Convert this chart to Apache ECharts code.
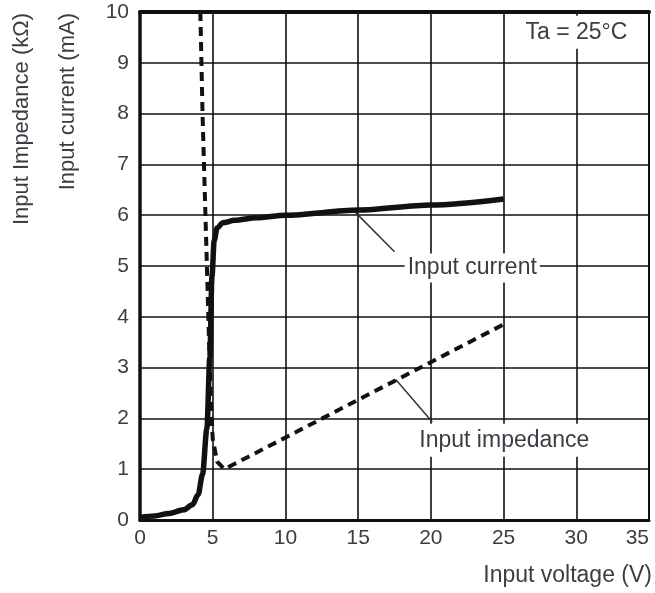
<!DOCTYPE html>
<html>
<head>
<meta charset="utf-8">
<script src="https://cdn.jsdelivr.net/npm/echarts@6/dist/echarts.min.js"></script>
<style>
  html, body { margin: 0; padding: 0; background: #fff; }
  #chart { width: 655px; height: 593px; }
</style>
</head>
<body>
<div id="chart"></div>
<script>
// 输入电流 (mA) 与输入阻抗 (kΩ) 随输入电压变化
let currentData = [
    [0, 0.05], [1, 0.08], [2, 0.13], [3, 0.2], [3.6, 0.3], [4.0, 0.5],
    [4.3, 0.9], [4.6, 1.8], [4.8, 3.2], [4.95, 4.8], [5.1, 5.5], [5.3, 5.75],
    [5.7, 5.85], [6.5, 5.9], [8, 5.95], [10, 6.0], [15, 6.1], [20, 6.2], [25, 6.32]
];
let impedanceData = [
    [4.15, 10], [4.3, 8], [4.5, 6], [4.7, 4], [4.85, 2.5], [5.0, 1.6],
    [5.3, 1.15], [5.8, 1.0], [25, 3.85]
];
let xTicks = [0, 35, 5];   // min, max, interval
let yTicks = [0, 10, 1];

let textColor = '#3c3c44';
let fontFamily = '"Liberation Sans", Arial, sans-serif';

let chartDom = document.getElementById('chart');
let myChart = echarts.init(chartDom);

//注释文字的样式
function noteLabel(text, size, pad){
    return {
        show: true, position: 'right', distance: 0,
        formatter: text,
        color: textColor, fontSize: size, fontFamily: fontFamily,
        backgroundColor: '#fff', padding: pad
    };
}

let option = {
    animation: false,
    grid: {
        left: 140,
        right: 6,
        top: 12,
        bottom: 73,
        show: true,
        borderColor: '#111',
        borderWidth: 2
    },
    xAxis: [
        {
            type: 'value',
            min: xTicks[0],
            max: xTicks[1],
            interval: xTicks[2],
            axisLine: { show: true, lineStyle: { color: '#111', width: 3 } },
            axisTick: { show: false },
            splitLine: { show: true, lineStyle: { color: '#111', width: 1.6 } },
            axisLabel: {
                color: textColor, fontSize: 21, fontFamily: fontFamily, margin: 8,
                alignMaxLabel: 'right'
            }
        },
        {
            type: 'value',
            position: 'top',
            min: xTicks[0],
            max: xTicks[1],
            interval: xTicks[2],
            axisLine: { show: true, lineStyle: { color: '#111', width: 4 } },
            axisTick: { show: false },
            axisLabel: { show: false },
            splitLine: { show: false }
        }
    ],
    yAxis: {
        type: 'value',
        min: yTicks[0],
        max: yTicks[1],
        interval: yTicks[2],
        axisLine: { show: true, lineStyle: { color: '#111', width: 3.5 } },
        axisTick: { show: false },
        splitLine: { show: true, lineStyle: { color: '#111', width: 1.6 } },
        axisLabel: { color: textColor, fontSize: 21, fontFamily: fontFamily, margin: 11 }
    },
    series: [
        {
            name: 'Input current',
            type: 'line',
            data: currentData,
            symbol: 'none',
            smooth: 0.3,
            smoothMonotone: 'x',
            z: 5,
            lineStyle: { color: '#111', width: 5.5 },
            markLine: {
                silent: true,
                symbol: 'none',
                label: { show: false },
                lineStyle: { color: '#333', width: 1.5, type: 'solid' },
                data: [[{ coord: [14.8, 6.06] }, { coord: [17.5, 5.28] }]]
            },
            markPoint: {
                symbol: 'circle',
                symbolSize: 0,
                data: [
                    { coord: [18.2, 4.96], label: noteLabel('Input current', 23, [3, 3, 3, 3]) },
                    { coord: [26.3, 9.6], label: noteLabel('Ta = 25°C', 23, [5, 3, 5, 3]) }
                ]
            }
        },
        {
            name: 'Input impedance',
            type: 'line',
            data: impedanceData,
            symbol: 'none',
            z: 4,
            lineStyle: { color: '#111', width: 4, type: [9, 6] },
            markLine: {
                silent: true,
                symbol: 'none',
                label: { show: false },
                lineStyle: { color: '#333', width: 1.5, type: 'solid' },
                data: [[{ coord: [17.6, 2.76] }, { coord: [20.1, 1.93] }]]
            },
            markPoint: {
                symbol: 'circle',
                symbolSize: 0,
                data: [
                    { coord: [19.0, 1.57], label: noteLabel('Input impedance', 23, [5, 3, 5, 3]) }
                ]
            }
        }
    ],
    graphic: [
        {
            type: 'text',
            x: 22, y: 13,
            rotation: Math.PI / 2,
            style: {
                text: 'Input Impedance (kΩ)',
                fill: textColor, fontSize: 22, fontFamily: fontFamily,
                align: 'right', verticalAlign: 'middle'
            }
        },
        {
            type: 'text',
            x: 68, y: 13,
            rotation: Math.PI / 2,
            style: {
                text: 'Input current (mA)',
                fill: textColor, fontSize: 22, fontFamily: fontFamily,
                align: 'right', verticalAlign: 'middle'
            }
        },
        {
            type: 'text',
            right: 3, top: 564,
            style: {
                text: 'Input voltage (V)',
                fill: textColor, fontSize: 23, fontFamily: fontFamily
            }
        }
    ]
};

myChart.setOption(option);
</script>
</body>
</html>
